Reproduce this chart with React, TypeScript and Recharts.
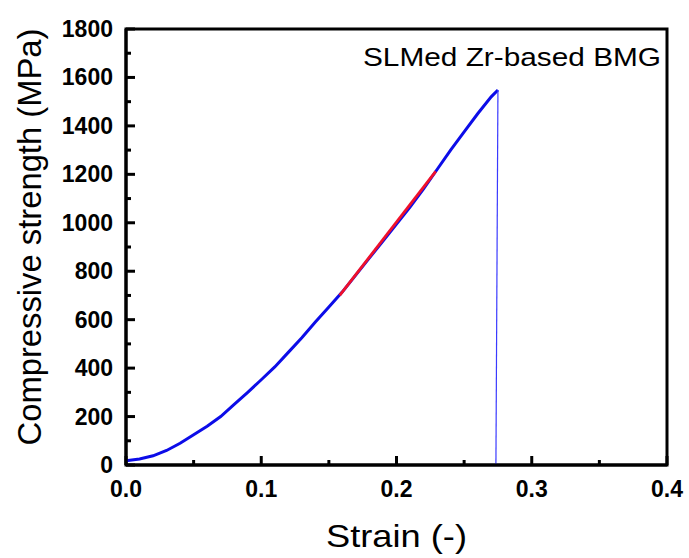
import React from "react";
import { LineChart, Line, XAxis, YAxis, ReferenceArea } from "recharts";

const strain = [
  0, 0.01, 0.02, 0.03, 0.04, 0.05, 0.06, 0.07, 0.08, 0.09, 0.1, 0.11, 0.12, 0.13, 0.14,
  0.15, 0.16, 0.17, 0.18, 0.19, 0.2, 0.21, 0.22, 0.23, 0.24, 0.25, 0.26, 0.27, 0.275,
];
const stress = [
  18, 25, 38, 60, 90, 125, 160, 200, 250, 300, 352, 405, 465, 525, 590,
  652, 715, 785, 855, 925, 995, 1065, 1140, 1220, 1300, 1375, 1450, 1520, 1548,
];

// fracture drop
const dropStrain = [0.275, 0.2735];
const dropStress = [1548, 0];

// linear fit segment
const fitStrain = [0.158, 0.229];
const fitStress = [700, 1212];

const xTicks = [0, 0.05, 0.1, 0.15, 0.2, 0.25, 0.3, 0.35, 0.4];
const yTicks = [0, 100, 200, 300, 400, 500, 600, 700, 800, 900, 1000, 1100, 1200, 1300, 1400, 1500, 1600, 1700, 1800];

const curve = strain.map((s, i) => ({ x: s, y: stress[i] }));
const drop = dropStrain.map((s, i) => ({ x: s, y: dropStress[i] }));
const fit = fitStrain.map((s, i) => ({ x: s, y: fitStress[i] }));

const FONT = "'Liberation Sans', Arial, Helvetica, sans-serif";

function XTick({ x, y, payload }: any) {
  const v: number = payload.value;
  const major = Math.round(v * 100) % 10 === 0;
  return (
    <g>
      <line x1={x} y1={y} x2={x} y2={y - (major ? 9 : 5)} stroke="#000" strokeWidth={3} />
      {major && (
        <text x={x} y={y + 32} textAnchor="middle" fontFamily={FONT} fontWeight="bold" fontSize={23} fill="#000">
          {v.toFixed(1)}
        </text>
      )}
    </g>
  );
}

function YTick({ x, y, payload }: any) {
  const v: number = payload.value;
  const major = v % 200 === 0;
  return (
    <g>
      <line x1={x} y1={y} x2={x + (major ? 9 : 5)} y2={y} stroke="#000" strokeWidth={3} />
      {major && (
        <text x={x - 13} y={y + 8} textAnchor="end" fontFamily={FONT} fontWeight="bold" fontSize={23} fill="#000">
          {v}
        </text>
      )}
    </g>
  );
}

export default function App() {
  return (
    <div style={{ position: "absolute", left: 0, top: 0, width: 689, height: 558, background: "#fff" }}>
      <LineChart width={689} height={558} margin={{ top: 29, right: 22, bottom: 0, left: 0 }}>
        <ReferenceArea x1={0} x2={0.4} y1={0} y2={1800} fill="none" stroke="#000" strokeWidth={3} />
        <XAxis
          dataKey="x"
          type="number"
          domain={[0, 0.4]}
          ticks={xTicks}
          interval={0}
          height={93}
          tickSize={0}
          tickMargin={0}
          tickLine={false}
          axisLine={{ stroke: "#000", strokeWidth: 3 }}
          tick={<XTick />}
        />
        <YAxis
          dataKey="y"
          type="number"
          domain={[0, 1800]}
          ticks={yTicks}
          interval={0}
          width={126}
          tickSize={0}
          tickMargin={0}
          tickLine={false}
          axisLine={{ stroke: "#000", strokeWidth: 3 }}
          tick={<YTick />}
        />
        <Line data={curve} dataKey="y" type="linear" stroke="#0c0ce8" strokeWidth={3} dot={false} isAnimationActive={false} />
        <Line data={drop} dataKey="y" type="linear" stroke="#3a3aff" strokeWidth={1.2} dot={false} isAnimationActive={false} />
        <Line data={fit} dataKey="y" type="linear" stroke="#f0102a" strokeWidth={2.8} dot={false} isAnimationActive={false} />
        <text x={363} y={66} fontFamily={FONT} fontSize={25} textLength={298} lengthAdjust="spacingAndGlyphs" fill="#000">
          SLMed Zr-based BMG
        </text>
        <text x={326} y={547} fontFamily={FONT} fontSize={32} textLength={141} lengthAdjust="spacingAndGlyphs" fill="#000">
          Strain (-)
        </text>
        <text
          x={0}
          y={0}
          transform="translate(41, 237) rotate(-90)"
          textAnchor="middle"
          fontFamily={FONT}
          fontSize={33}
          textLength={417}
          lengthAdjust="spacingAndGlyphs"
          fill="#000"
        >
          Compressive strength (MPa)
        </text>
      </LineChart>
    </div>
  );
}
